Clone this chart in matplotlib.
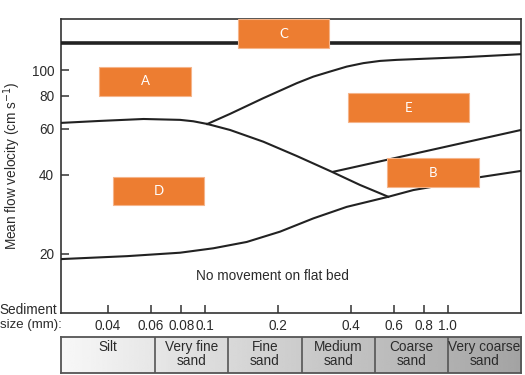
import numpy as np
import matplotlib
matplotlib.use("Agg")
import matplotlib.pyplot as plt
from matplotlib.ticker import NullLocator, FixedLocator, FixedFormatter
from matplotlib.patches import Rectangle

# ---------------- data ----------------
size_ticks = [0.04, 0.06, 0.08, 0.1, 0.2, 0.4, 0.6, 0.8, 1.0]
size_tick_labels = ["0.04", "0.06", "0.08", "0.1", "0.2", "0.4", "0.6", "0.8", "1.0"]
vel_ticks = [20, 40, 60, 80, 100]
vel_tick_labels = ["20", "40", "60", "80", "100"]
size_limits = (0.0256, 2.0)
vel_limits = (11.9, 157.0)

# boundary between A (upper) and D (lower), fine sediment
ad_size = [0.0256, 0.037, 0.056, 0.0791, 0.0897, 0.1024]
ad_vel = [63.1, 64.2, 65.3, 64.8, 64.0, 62.5]

# boundary between A and E
ae_size = [0.1024, 0.1270, 0.1741, 0.2389, 0.2796, 0.3275, 0.3836, 0.4490,
           0.5259, 0.6161, 0.8444, 1.158, 2.0]
ae_vel = [62.5, 68.3, 78.4, 89.4, 94.7, 99.0, 103.4, 106.6,
          108.7, 109.7, 111.0, 112.3, 115.3]

# boundary between D and E, continuing down to the threshold curve
de_size = [0.1024, 0.1270, 0.1741, 0.2389, 0.3329, 0.4351, 0.5689]
de_vel = [62.5, 59.3, 53.5, 47.2, 41.1, 36.6, 33.0]

# boundary between E and B
eb_size = [0.3380, 2.0]
eb_vel = [41.1, 59.3]

# threshold of movement
thr_size = [0.0256, 0.0479, 0.0791, 0.1084, 0.1488, 0.2040, 0.2796, 0.3836,
            0.5689, 0.7209, 0.8444, 1.356, 2.0]
thr_vel = [19.1, 19.6, 20.2, 21.0, 22.2, 24.3, 27.3, 30.2,
           33.0, 35.0, 35.9, 39.2, 41.4]

# upper horizontal boundary
upper_limit_vel = 127.0

# grain-size classes
class_names = ["Silt", "Very fine\nsand", "Fine\nsand", "Medium\nsand", "Coarse\nsand", "Very coarse\nsand"]
class_bounds = [0.0256, 0.0625, 0.125, 0.25, 0.5, 1.0, 2.0]

region_labels = ["A", "B", "C", "D", "E"]

# ---------------- style ----------------
plt.rcParams['font.family'] = ['Liberation Sans', 'DejaVu Sans']
txt_col = '#2b2b2b'
line_col = '#222222'
orange = '#ED7D31'
fs = 9.8

fig = plt.figure(figsize=(5.25, 3.75), dpi=100)
ax = fig.add_axes([0.1162, 0.1653, 0.8762, 0.784])
ax.set_xscale('log')
ax.set_yscale('log')
ax.set_xlim(*size_limits)
ax.set_ylim(*vel_limits)

ax.xaxis.set_major_locator(FixedLocator(size_ticks))
ax.xaxis.set_major_formatter(FixedFormatter(size_tick_labels))
ax.yaxis.set_major_locator(FixedLocator(vel_ticks))
ax.yaxis.set_major_formatter(FixedFormatter(vel_tick_labels))
ax.xaxis.set_minor_locator(NullLocator())
ax.yaxis.set_minor_locator(NullLocator())
ax.tick_params(axis='x', direction='in', length=6, width=1.1, color='#333333',
               labelsize=fs, labelcolor=txt_col, pad=4)
ax.tick_params(axis='y', direction='in', length=6, width=1.1, color='#333333',
               labelsize=fs, labelcolor=txt_col, pad=5)
for sp in ax.spines.values():
    sp.set_color('#333333')
    sp.set_linewidth(1.2)

lw = 1.5
ax.plot(ad_size, ad_vel, color=line_col, lw=lw, zorder=3, solid_joinstyle='round')
ax.plot(ae_size, ae_vel, color=line_col, lw=lw, zorder=3, solid_joinstyle='round')
ax.plot(de_size, de_vel, color=line_col, lw=lw, zorder=3, solid_joinstyle='round')
ax.plot(eb_size, eb_vel, color=line_col, lw=lw, zorder=3)
ax.plot(thr_size, thr_vel, color=line_col, lw=lw, zorder=3, solid_joinstyle='round')
ax.axhline(upper_limit_vel, color=line_col, lw=2.6, zorder=3)

ax.set_ylabel("Mean flow velocity (cm s$^{-1}$)", fontsize=fs, color=txt_col)
ax.yaxis.set_label_coords(-0.083, 0.5)

ax.text(0.46, 0.125, "No movement on flat bed", transform=ax.transAxes,
        ha='center', va='center', fontsize=fs, color=txt_col)

# region boxes (axes fraction: x0, y0, w, h)
boxes = {
    "A": (0.0826, 0.738, 0.200, 0.099),
    "B": (0.7087, 0.4286, 0.200, 0.0984),
    "C": (0.3848, 0.901, 0.1978, 0.099),
    "D": (0.113, 0.367, 0.198, 0.0956),
    "E": (0.624, 0.650, 0.263, 0.098),
}
for lab in region_labels:
    x0, y0, w, h = boxes[lab]
    ax.add_patch(Rectangle((x0, y0), w, h, transform=ax.transAxes,
                           facecolor=orange, edgecolor='#f5b48a', lw=0.8,
                           zorder=5, clip_on=False))
    ax.text(x0 + w / 2, y0 + h / 2, lab, transform=ax.transAxes, ha='center',
            va='center', color='white', fontsize=9.5, family=['Lato', 'DejaVu Sans'],
            zorder=6)

fig.text(57.5 / 525, 1 - 310 / 375, "Sediment", ha='right', va='center',
         fontsize=fs, color=txt_col)
fig.text(0.5 / 525, 1 - 325 / 375, "size (mm):", ha='left', va='center',
         fontsize=9.5, color=txt_col)

# ---------------- grain size band ----------------
bax = fig.add_axes([0.1162, 0.00533, 0.8762, 0.096])
bax.set_xscale('log')
grad = np.linspace(0.97, 0.64, 256)[None, :]
bax.imshow(grad, cmap='gray', vmin=0, vmax=1, aspect='auto',
           extent=(0, 1, 0, 1), transform=bax.transAxes, zorder=0)
bax.set_xlim(*size_limits)
bax.set_ylim(0, 1)
bax.set_xticks([])
bax.set_yticks([])
bax.xaxis.set_minor_locator(NullLocator())
for sp in bax.spines.values():
    sp.set_color('#555555')
    sp.set_linewidth(1.3)
for b in class_bounds[1:-1]:
    bax.axvline(b, color='#555555', lw=1.2, zorder=2)
for i, name in enumerate(class_names):
    xc = np.sqrt(class_bounds[i] * class_bounds[i + 1])
    bax.text(xc, 0.93, name, ha='center', va='top', fontsize=fs, color=txt_col,
             linespacing=1.0, zorder=3)

fig.savefig("out.png", dpi=100)
